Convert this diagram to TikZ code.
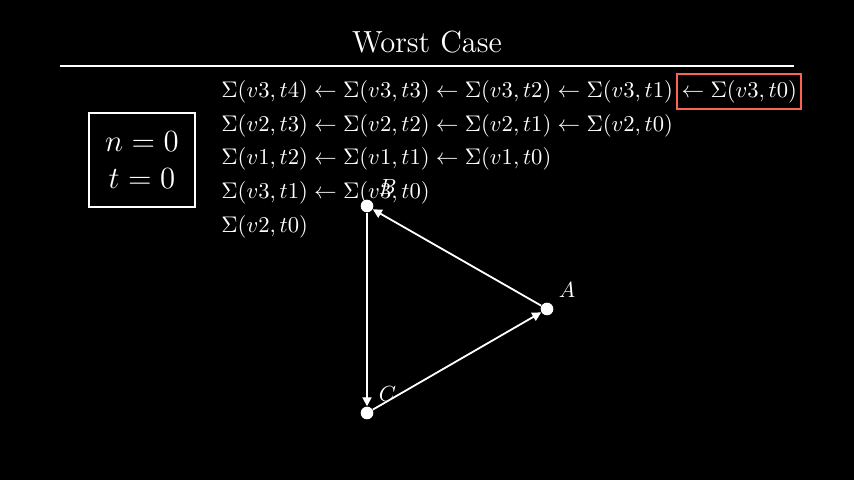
\documentclass[tikz,border=0pt]{standalone}
\usepackage{amsmath}
\usepackage{amssymb}
\usepackage{tikz}
\usetikzlibrary{arrows.meta}
\usetikzlibrary{positioning}
\usepackage{xcolor}
\definecolor{boxred}{HTML}{FC6255}

\begin{document}
\begin{tikzpicture}[x=0.017564cm, y=-0.017564cm,
  every node/.style={text=white, font=\fontsize{10.95}{13.6}\selectfont},
  row/.style={anchor=west, inner sep=0pt, scale=1.032},
  vertex/.style={circle, fill=white, inner sep=0pt, minimum size=6.3pt, label distance=0pt},
  edge/.style={draw=white, line width=0.9pt, -{Triangle[length=4.5pt, width=4.5pt]}},
]
  \fill[black] (0,0) rectangle (854,480);

  \node[font=\Large, scale=1.06] (title) at (427,42) {Worst Case};
  \draw[white, line width=1.1pt] (60,66) -- (794,66);

  \node[draw=white, line width=1pt, align=center, minimum width=1.862cm, minimum height=1.651cm,
        font=\Large] (state) at (142,160) {\scalebox{1.07}{$n=0$}\\[0.5pt]\scalebox{1.07}{$t=0$}};

  \node[row] (r1) at (221,92) {$\Sigma(v3,t4) \leftarrow \Sigma(v3,t3) \leftarrow \Sigma(v3,t2) \leftarrow \Sigma(v3,t1)$};
  \node[draw=boxred, line width=1pt, inner xsep=2pt, inner ysep=3pt, scale=1.032, right=1.5pt of r1] (cur) {$\leftarrow \Sigma(v3,t0)$};
  \node[row] (r2) at (221,126) {$\Sigma(v2,t3) \leftarrow \Sigma(v2,t2) \leftarrow \Sigma(v2,t1) \leftarrow \Sigma(v2,t0)$};
  \node[row] (r3) at (221,159) {$\Sigma(v1,t2) \leftarrow \Sigma(v1,t1) \leftarrow \Sigma(v1,t0)$};
  \node[row] (r4) at (221,193) {$\Sigma(v3,t1) \leftarrow \Sigma(v3,t0)$};
  \node[row] (r5) at (221,227) {$\Sigma(v2,t0)$};

  \node[vertex, label={45:$A$}] (A) at (547,309) {};
  \node[vertex, label={45:$B$}] (B) at (367,206) {};
  \node[vertex, label={45:$C$}] (C) at (367,413) {};

  \draw[edge] (A) -- (B);
  \draw[edge] (B) -- (C);
  \draw[edge] (C) -- (A);
\end{tikzpicture}
\end{document}
